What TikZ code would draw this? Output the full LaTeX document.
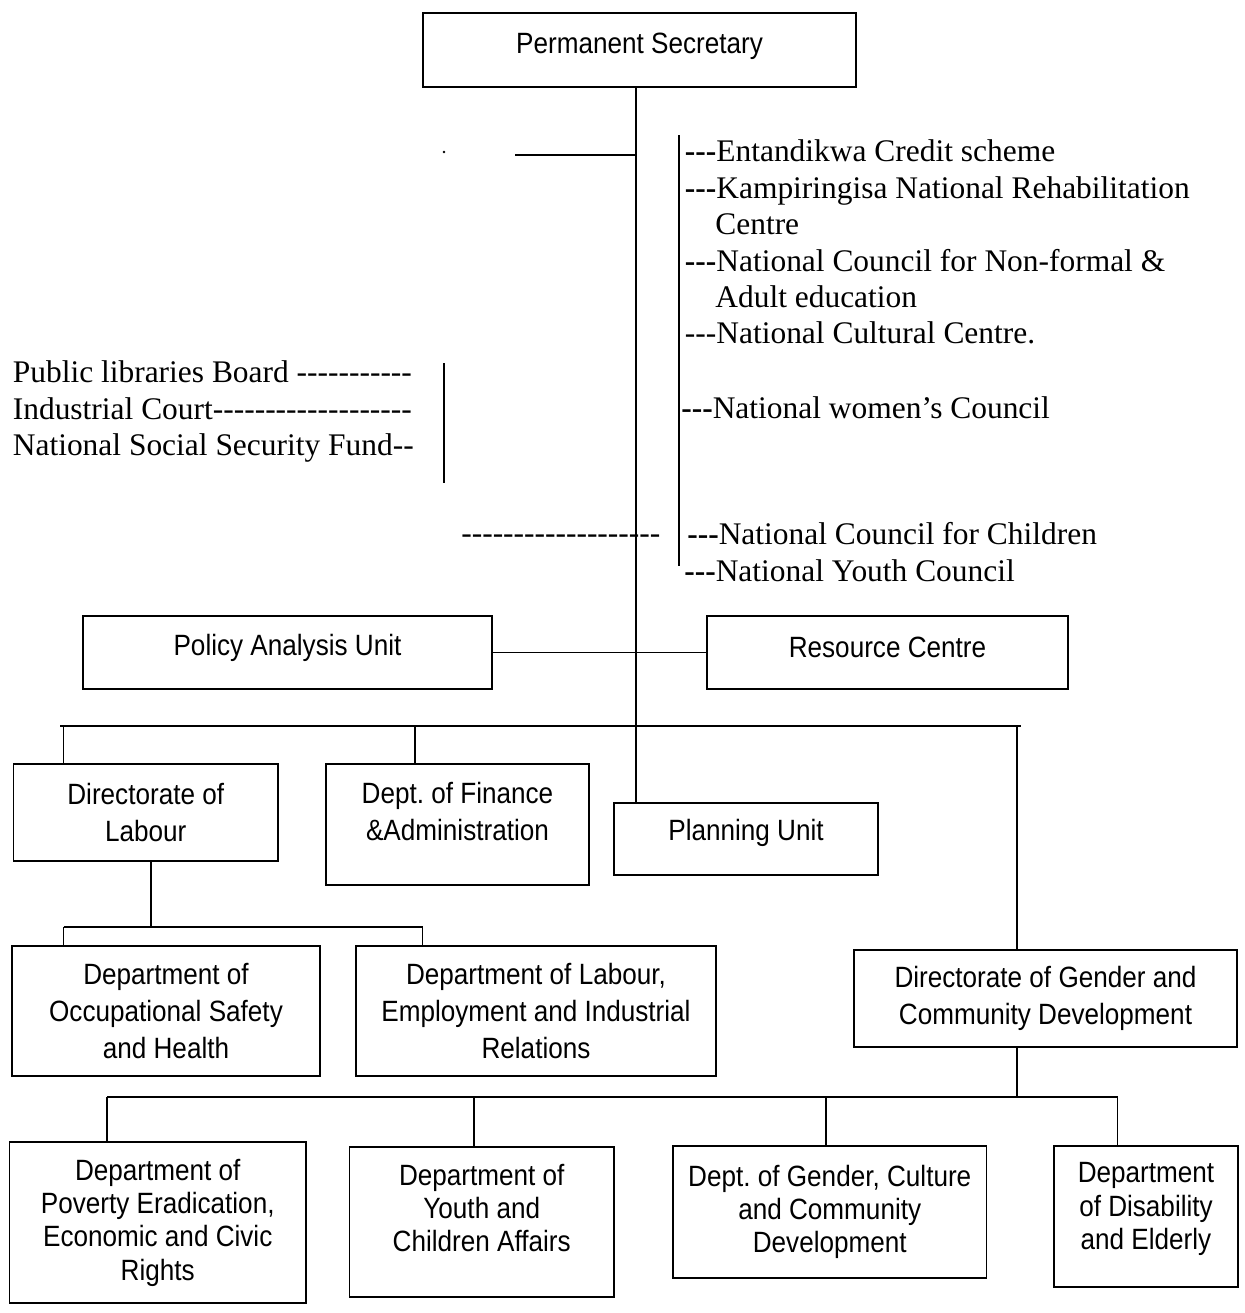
\documentclass[tikz,border=0pt]{standalone}
\usepackage{fontspec}
\setmainfont{Liberation Serif}[Ligatures=TeXOff]
\newfontfamily\boxfont{Liberation Sans}[FakeStretch=0.89]

\begin{document}
\begin{tikzpicture}[x=0.02cm,y=-0.02cm,
    orgbox/.style 2 args={draw,line width=1pt,inner sep=0pt,outer sep=0pt,align=center,
        minimum width=#1*0.02cm,minimum height=#2*0.02cm,
        font=\boxfont\fontsize{16.7}{21}\selectfont},
    lowbox/.style={font=\boxfont\fontsize{16.7}{19}\selectfont},
    item/.style={anchor=base west,inner sep=0pt,font=\fontsize{17.9}{20.7}\selectfont},
    link/.style={line width=0.6pt},
    bar/.style={line width=0.9pt}]
    \useasboundingbox (0,0) rectangle (1245,1313);
    % boxes
    \node[orgbox={433}{74},text depth=8pt] (ps) at (639.5,50) {Permanent Secretary};
    \node[orgbox={409}{73},text depth=9pt] (pau) at (287.5,652.5) {Policy Analysis Unit};
    \node[orgbox={361}{73},text depth=5.7pt] (rc) at (887.5,652.5) {Resource Centre};
    \node[orgbox={264.5}{97}] (dlab) at (145.75,812.5) {Directorate of\\Labour};
    \node[orgbox={263}{121},text depth=15pt] (dfa) at (457.5,824.5) {Dept.\ of Finance\\\&Administration};
    \node[orgbox={264}{72},text depth=10pt] (pu) at (746,839) {Planning Unit};
    \node[orgbox={308}{130}] (osh) at (166,1011) {Department of\\Occupational Safety\\and Health};
    \node[orgbox={360.5}{130}] (lei) at (536,1011) {Department of Labour,\\Employment and Industrial\\Relations};
    \node[orgbox={383}{97}] (dg) at (1045.5,998.5) {Directorate of Gender and\\Community Development};
    \node[orgbox={296.5}{161},lowbox] (pov) at (157.75,1222.5) {Department of\\Poverty Eradication,\\Economic and Civic\\Rights};
    \node[orgbox={264.5}{150},lowbox,text depth=16pt] (yca) at (481.75,1222) {Department of\\Youth and\\Children Affairs};
    \node[orgbox={313.5}{132},lowbox] (gcc) at (829.75,1212) {Dept.\ of Gender, Culture\\and Community\\Development};
    \node[orgbox={184}{141},lowbox,text depth=12pt] (dde) at (1146,1216.5) {Department\\of Disability\\and Elderly};
    % trunk and side lines
    \coordinate (trunk) at (636,0);
    \draw[link] (trunk |- ps.south) -- (trunk |- pu.north);
    \coordinate (stub) at (515,155);
    \draw[link] (stub) -- (stub -| trunk);
    \coordinate (dot) at (444,152);
    \fill (dot) circle[radius=0.8pt];
    \coordinate (lbt) at (444,363);
    \coordinate (lbb) at (444,483);
    \draw[link] (lbt) -- (lbb);
    \coordinate (rbt) at (679,135);
    \coordinate (rbb) at (679,566);
    \draw[link] (rbt) -- (rbb);
    \draw[link] (pau.east) -- (rc.west);
    % main bar
    \coordinate (bl) at (60,726);
    \coordinate (br) at (1021,726);
    \coordinate (t1) at (63.5,726);
    \coordinate (t2) at (415,726);
    \coordinate (t3) at (1017,726);
    \draw[bar] (bl) -- (br);
    \draw[link] (t1) -- (t1 |- dlab.north);
    \draw[link] (t2) -- (t2 |- dfa.north);
    \draw[link] (t3) -- (t3 |- dg.north);
    % labour
    \coordinate (lab) at (151,927);
    \coordinate (u1) at (63.5,927);
    \coordinate (u2) at (422.5,927);
    \draw[link] (lab |- dlab.south) -- (lab);
    \draw[bar] (u1) -- (u2);
    \draw[link] (u1) -- (u1 |- osh.north);
    \draw[link] (u2) -- (u2 |- lei.north);
    % gender
    \coordinate (dgt) at (1017,1097);
    \coordinate (v1) at (107,1097);
    \coordinate (v2) at (474,1097);
    \coordinate (v3) at (826,1097);
    \coordinate (v4) at (1117.5,1097);
    \draw[link] (dgt |- dg.south) -- (dgt);
    \draw[bar] (v1) -- (v4);
    \draw[link] (v1) -- (v1 |- pov.north);
    \draw[link] (v2) -- (v2 |- yca.north);
    \draw[link] (v3) -- (v3 |- gcc.north);
    \draw[link] (v4) -- (v4 |- dde.north);
    % bodies
    \begin{scope}[every node/.append style={item}]
        \node (ent) at (684.6,161) {\textbf{---}Entandikwa Credit scheme};
        \node (kamp) at (684.6,198) {\textbf{---}Kampiringisa National Rehabilitation};
        \node (kampb) at (715,234) {Centre};
        \node (nfae) at (684.6,271) {\textbf{---}National Council for Non-formal \&};
        \node (nfaeb) at (715,307) {Adult education};
        \node (cult) at (684.6,343) {---National Cultural Centre.};
        \node (wom) at (681,418) {\textbf{---}National women’s Council};
        \node (chil) at (687,544) {\textbf{---}National Council for Children};
        \node (yth) at (684,581) {\textbf{---}National Youth Council};
        \node (plb) at (12.5,382) {Public libraries Board -----------};
        \node (ic) at (12.5,419) {Industrial Court-------------------};
        \node (nssf) at (12.5,455) {National Social Security Fund--};
        \node (dash) at (461,543) {-------------------};
    \end{scope}
\end{tikzpicture}
\end{document}
